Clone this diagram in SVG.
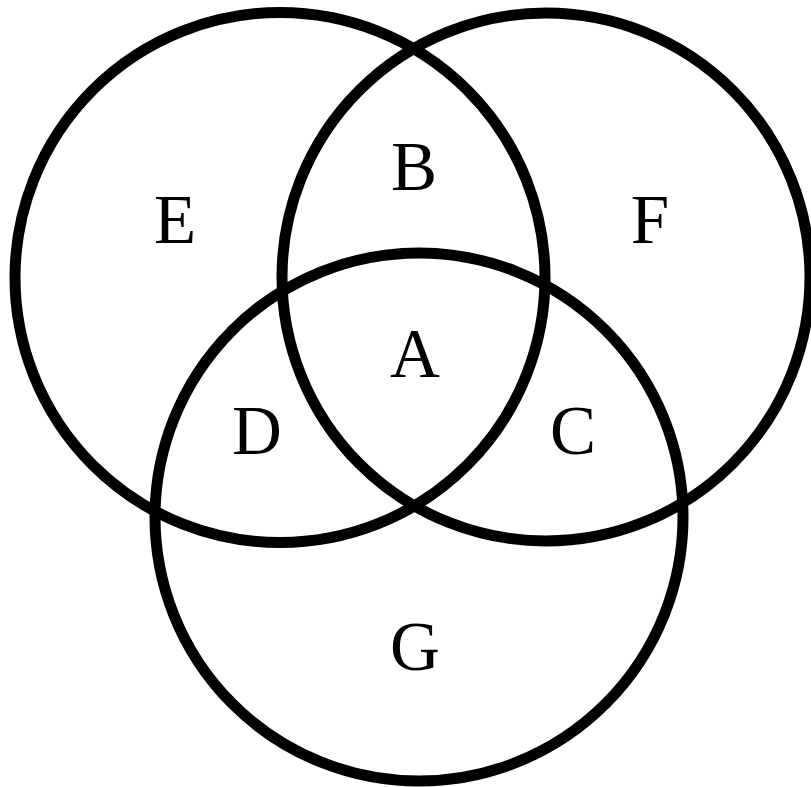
<svg xmlns="http://www.w3.org/2000/svg" width="811" height="787" viewBox="0 0 811 787">
<style>
.c{fill:none;stroke:#000;stroke-width:11}
.t{font-family:"Liberation Serif","Times New Roman",serif;font-size:69px;fill:#000;text-anchor:middle}
</style>
<rect width="811" height="787" fill="#fff"/>
<g id="circles">
<circle id="circle-left" class="c" cx="280" cy="277.5" r="265"/>
<circle id="circle-right" class="c" cx="546" cy="277" r="264"/>
<circle id="circle-bottom" class="c" cx="419" cy="517" r="264"/>
</g>
<g id="labels">
<g id="E"><text class="t" x="175" y="243">E</text></g>
<g id="B"><text class="t" x="414" y="190">B</text></g>
<g id="F"><text class="t" x="650" y="243">F</text></g>
<g id="A"><text class="t" x="415" y="377">A</text></g>
<g id="D"><text class="t" x="257" y="454">D</text></g>
<g id="C"><text class="t" x="573" y="454">C</text></g>
<g id="G"><text class="t" x="415" y="670">G</text></g>
</g>
</svg>
